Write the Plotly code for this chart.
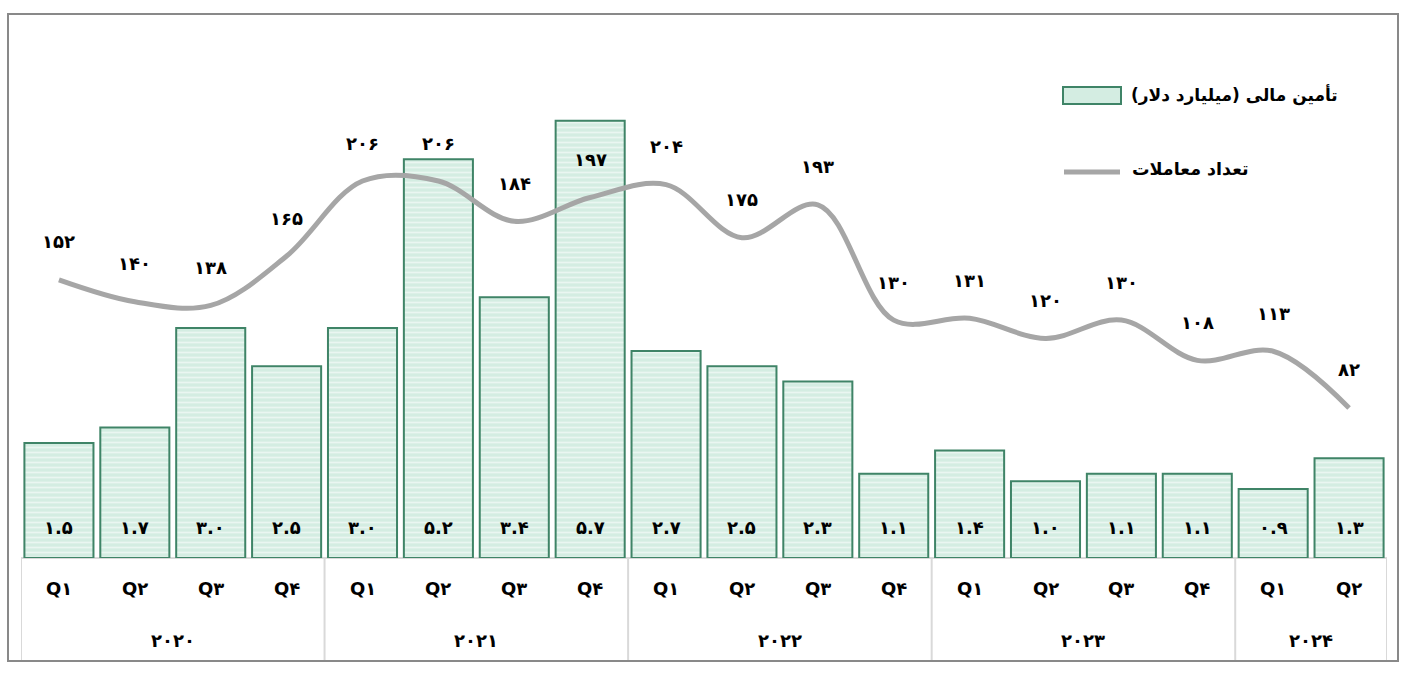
import plotly.graph_objects as go

quarters = ["Q1", "Q2", "Q3", "Q4"] * 4 + ["Q1", "Q2"]
years = ["2020", "2021", "2022", "2023", "2024"]
year_counts = [4, 4, 4, 4, 2]
funding = [1.5, 1.7, 3.0, 2.5, 3.0, 5.2, 3.4, 5.7, 2.7, 2.5, 2.3, 1.1, 1.4, 1.0, 1.1, 1.1, 0.9, 1.3]
deals = [152, 140, 138, 165, 206, 206, 184, 197, 204, 175, 193, 130, 131, 120, 130, 108, 113, 82]
bar_name = "تأمین مالی (میلیارد دلار)"
line_name = "تعداد معاملات"

FA = str.maketrans("0123456789", "۰۱۲۳۴۵۶۷۸۹")
def fa(s):
    return str(s).translate(FA)

W, H = 1410, 674
L, R, T, B = 21, 23, 30, 116
PW, PH = W - L - R, H - T - B
def px(x):
    return (x - L) / PW
def py(y):
    return (H - B - y) / PH

FONT = "DejaVu Sans, Tahoma, sans-serif"
def f(size):
    return dict(family=FONT, size=size, color="#000", weight="bold")

n = len(funding)
xs = list(range(n))

fig = go.Figure()
fig.add_trace(go.Bar(
    x=xs, y=funding, name=bar_name, showlegend=False,
    marker=dict(color="#d4ede2", line=dict(color="#3f8467", width=2),
                pattern=dict(shape="-", bgcolor="#d4ede2", fgcolor="#ffffff",
                             size=5, solidity=0.35)),
    hoverinfo="skip",
))
fig.add_trace(go.Scatter(
    x=xs, y=deals, name=line_name, yaxis="y2", mode="lines", showlegend=False,
    line=dict(color="#a6a6a6", width=5, shape="spline", smoothing=1.0),
    hoverinfo="skip",
))

ann = []
shapes = []
for i, v in enumerate(funding):
    ann.append(dict(x=i, y=0, xref="x", yref="y", text=fa(f"{v:.1f}"), showarrow=False,
                    yshift=31, font=f(18), yanchor="middle"))
for i, v in enumerate(deals):
    ann.append(dict(x=i, y=v, xref="x", yref="y2", text=fa(v), showarrow=False,
                    yshift=38, font=f(18), yanchor="middle"))
for i, q in enumerate(quarters):
    ann.append(dict(x=i, y=py(588), xref="x", yref="paper", text=fa(q), showarrow=False,
                    font=f(18), yanchor="middle"))
start = 0
bounds = [-0.5]
for yname, c in zip(years, year_counts):
    ann.append(dict(x=start + (c - 1) / 2, y=py(640), xref="x", yref="paper", text=fa(yname),
                    showarrow=False, font=f(18), yanchor="middle"))
    start += c
    bounds.append(start - 0.5)

# category table lines
shapes.append(dict(type="line", xref="paper", yref="paper", x0=0, x1=1, y0=0, y1=0,
                   line=dict(color="#d9d9d9", width=2), layer="below"))
for b in bounds:
    shapes.append(dict(type="line", xref="x", yref="paper", x0=b, x1=b, y0=py(660), y1=0,
                       line=dict(color="#d9d9d9", width=2)))
# outer border
shapes.append(dict(type="rect", xref="paper", yref="paper", x0=px(8), x1=px(1398),
                   y0=py(661), y1=py(14), line=dict(color="#898989", width=2)))
# legend
shapes.append(dict(type="rect", xref="paper", yref="paper", x0=px(1063), x1=px(1121),
                   y0=py(104), y1=py(87), fillcolor="#d4ede2",
                   line=dict(color="#3f8467", width=2)))
shapes.append(dict(type="line", xref="paper", yref="paper", x0=px(1064), x1=px(1120),
                   y0=py(172), y1=py(172), line=dict(color="#a6a6a6", width=5)))
ann.append(dict(x=px(1340), y=py(95), xref="paper", yref="paper", text=bar_name,
                showarrow=False, xanchor="right", yanchor="middle", font=f(17)))
ann.append(dict(x=px(1251), y=py(169), xref="paper", yref="paper", text=line_name,
                showarrow=False, xanchor="right", yanchor="middle", font=f(17.5)))

fig.update_layout(
    width=W, height=H, margin=dict(l=L, r=R, t=T, b=B),
    paper_bgcolor="white", plot_bgcolor="white",
    bargap=0.09, showlegend=False,
    xaxis=dict(range=[-0.5, n - 0.5], showticklabels=False, showgrid=False,
               zeroline=False, showline=False, ticks=""),
    yaxis=dict(range=[0, PH / 76.7], visible=False, showgrid=False, zeroline=False),
    yaxis2=dict(range=[0, PH / 1.83], overlaying="y", visible=False, showgrid=False,
                zeroline=False),
    annotations=ann, shapes=shapes,
    font=dict(family=FONT),
)
fig.write_html("out.html")
